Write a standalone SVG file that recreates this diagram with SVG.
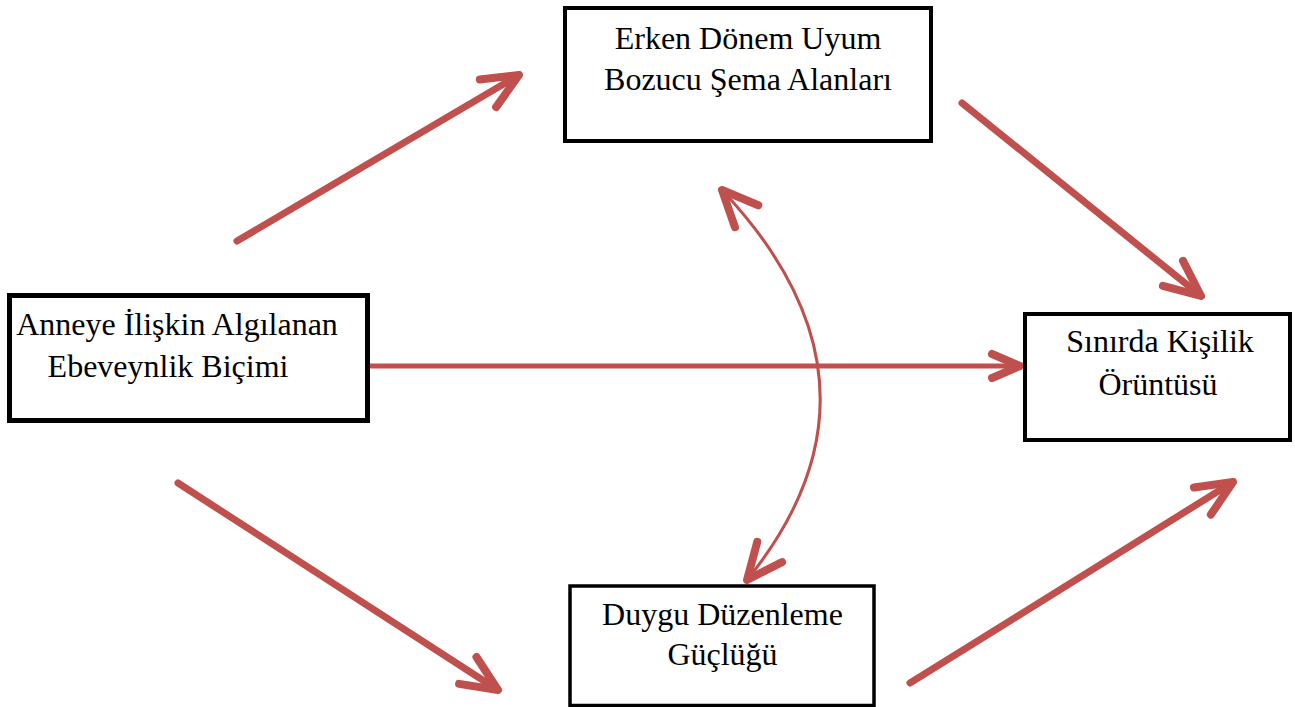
<svg xmlns="http://www.w3.org/2000/svg" width="1295" height="707" viewBox="0 0 1295 707">
<style>
.box{fill:#fff;stroke:#000}
.lbl{font-family:"Liberation Serif","Times New Roman",serif;font-size:32px;fill:#000}
.c{text-anchor:middle}
.arr{fill:none;stroke:#c0504d;stroke-linecap:round}
.hd{fill:none;stroke:#c0504d;stroke-width:8;stroke-linecap:round;stroke-linejoin:round}
</style>
<defs>
<marker id="h" markerUnits="userSpaceOnUse" markerWidth="80" markerHeight="80" refX="0" refY="0" orient="auto-start-reverse" style="overflow:visible">
<path class="hd" d="M-36,-16 L0,0 L-36,16"/>
</marker>
<marker id="hs" markerUnits="userSpaceOnUse" markerWidth="80" markerHeight="80" refX="0" refY="0" orient="auto" style="overflow:visible">
<path class="hd" d="M-28,-12 L0,0 L-28,12"/>
</marker>
</defs>
<rect width="1295" height="707" fill="#fff"/>
<g id="connectors">
<path class="arr" style="stroke-width:7" d="M237,241 L519,75" marker-end="url(#h)"/>
<path class="arr" style="stroke-width:7" d="M962,103 L1201,296" marker-end="url(#h)"/>
<path class="arr" style="stroke-width:5" d="M370,366 L1020,366" marker-end="url(#hs)"/>
<path class="arr" style="stroke-width:7" d="M178,483 L498,690" marker-end="url(#h)"/>
<path class="arr" style="stroke-width:7" d="M910,683 L1233,482" marker-end="url(#h)"/>
<path class="arr" style="stroke-width:3" d="M722,190 Q905,385 747,580" marker-start="url(#h)" marker-end="url(#h)"/>
</g>
<g id="node-erken">
<rect class="box" x="565" y="8" width="366" height="133" stroke-width="4"/>
<text class="lbl c" x="748" y="49">Erken Dönem Uyum</text>
<text class="lbl c" x="748" y="90">Bozucu Şema Alanları</text>
</g>
<g id="node-anne">
<rect class="box" x="9.5" y="295.5" width="358" height="125" stroke-width="5"/>
<text class="lbl c" x="177" y="335">Anneye İlişkin Algılanan</text>
<text class="lbl c" x="168" y="377">Ebeveynlik Biçimi</text>
</g>
<g id="node-sinirda">
<rect class="box" x="1025" y="314" width="265" height="126" stroke-width="4"/>
<text class="lbl c" x="1160" y="352">Sınırda Kişilik</text>
<text class="lbl c" x="1158" y="395">Örüntüsü</text>
</g>
<g id="node-duygu">
<rect class="box" x="570" y="586" width="304" height="119.5" stroke-width="3.5"/>
<text class="lbl c" x="722.5" y="625">Duygu Düzenleme</text>
<text class="lbl c" x="722.5" y="665">Güçlüğü</text>
</g>
</svg>
